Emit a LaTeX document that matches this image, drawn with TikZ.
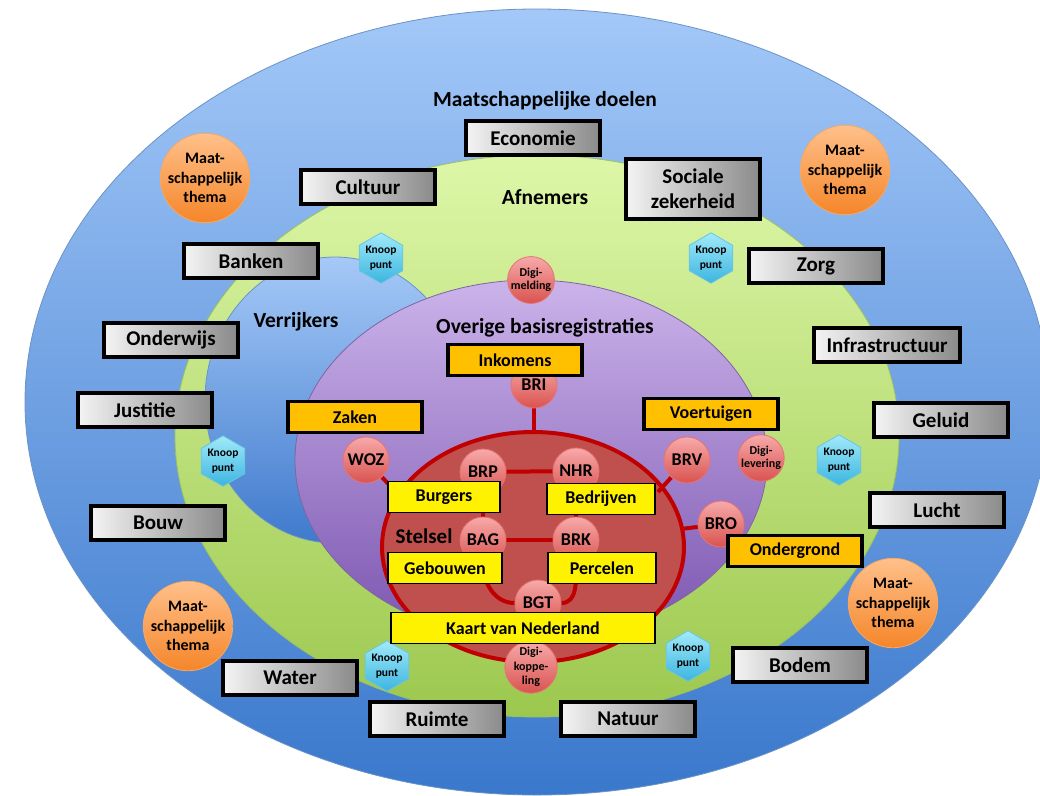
\documentclass[tikz,border=0pt]{standalone}
\usepackage{fontspec}
\setmainfont{Carlito}
\usetikzlibrary{shapes.geometric}
\pgfdeclarelayer{bg}
\pgfdeclarelayer{mid}
\pgfsetlayers{bg,mid,main}
\definecolor{blueT}{HTML}{A3C8F8}
\definecolor{blueB}{HTML}{3A78CC}
\definecolor{blueL}{HTML}{6B93C8}
\definecolor{greenT}{HTML}{DDF7A8}
\definecolor{greenB}{HTML}{9CC84E}
\definecolor{greenL}{HTML}{9DBF60}
\definecolor{verrT}{HTML}{A5C9F7}
\definecolor{verrB}{HTML}{3F7ACD}
\definecolor{purT}{HTML}{CBB3EA}
\definecolor{purB}{HTML}{7B55B0}
\definecolor{purL}{HTML}{8064A2}
\definecolor{stelF}{HTML}{C0504D}
\definecolor{darkred}{HTML}{C00000}
\definecolor{grayL}{HTML}{F4F4F4}
\definecolor{grayD}{HTML}{8A8A8A}
\definecolor{orangeF}{HTML}{FFC000}
\definecolor{regT}{HTML}{F7AAAA}
\definecolor{regB}{HTML}{D9534F}
\definecolor{regL}{HTML}{E57373}
\definecolor{hexT}{HTML}{A0EAFA}
\definecolor{hexB}{HTML}{3DB5E0}
\definecolor{hexL}{HTML}{6CC4E0}
\definecolor{themT}{HTML}{FFC08A}
\definecolor{themB}{HTML}{F5862A}
\definecolor{themL}{HTML}{F9A860}
\begin{document}
\begin{tikzpicture}[x=1pt,y=-1pt,
  graybox/.style={draw=black, line width=3.5pt, left color=grayL, right color=grayD,
    minimum width=134pt, minimum height=34pt, inner sep=0pt, align=center,
    font=\bfseries\fontsize{21}{25}\selectfont},
  orangebox/.style={draw=black, line width=3.5pt, fill=orangeF,
    minimum width=134pt, minimum height=31pt, inner sep=0pt,
    font=\bfseries\fontsize{18}{21}\selectfont},
  yellowbox/.style={draw=black, line width=1.5pt, fill=yellow,
    minimum width=112pt, minimum height=31pt, inner sep=0pt,
    font=\bfseries\fontsize{18}{21}\selectfont},
  regc/.style={circle, draw=regL, line width=0.8pt, top color=regT, bottom color=regB,
    minimum size=46pt, inner sep=0pt, font=\bfseries\fontsize{18}{21}\selectfont},
  digic/.style={regc, align=center, font=\bfseries\fontsize{12}{13.5}\selectfont},
  knoop/.style={regular polygon, regular polygon sides=6, shape border rotate=30,
    draw=hexL, line width=0.8pt, top color=hexT, bottom color=hexB,
    minimum size=49pt, inner sep=0pt, align=center,
    font=\bfseries\fontsize{11.5}{14.5}\selectfont},
  thema/.style={circle, draw=themL, line width=0.8pt, top color=themT, bottom color=themB,
    minimum size=86pt, inner sep=0pt, align=center,
    font=\bfseries\fontsize{16}{19.5}\selectfont},
  lbl/.style={inner sep=0pt, font=\bfseries\fontsize{21.5}{25}\selectfont},
  link/.style={draw=darkred, line width=4pt}
]
\useasboundingbox (0,0) rectangle (1040,795);
\begin{pgfonlayer}{bg}
  \clip (0,0) rectangle (1040,795);
  \shadedraw[top color=blueT, bottom color=blueB, draw=blueL, line width=0.8pt]
    (537,402) ellipse [x radius=512pt, y radius=393pt];
  \shadedraw[top color=greenT, bottom color=greenB, draw=greenL, line width=0.8pt]
    (537,436) ellipse [x radius=362pt, y radius=281pt];
  \shadedraw[top color=verrT, bottom color=verrB, draw=blueL, line width=0.8pt]
    (335,400) ellipse [x radius=130pt, y radius=143pt];
  \shadedraw[top color=purT, bottom color=purB, draw=purL, line width=0.8pt]
    (531,460) ellipse [x radius=236pt, y radius=180pt];
  \filldraw[fill=stelF, draw=darkred, line width=4pt]
    (533,547) ellipse [x radius=151pt, y radius=115pt];
\end{pgfonlayer}

% labels
\node[lbl] (tdoelen) at (545,101) {Maatschappelijke doelen};
\node[lbl] (tafn) at (545,197) {Afnemers};
\node[lbl] (tverr) at (296,322) {Verrijkers};
\node[lbl] (tover) at (545,328) {Overige basisregistraties};
\node[lbl, font=\bfseries\fontsize{21}{25}\selectfont] (tstel) at (424,536) {Stelsel};

% gray boxes
\node[graybox] (economie) at (533,138) {Economie};
\node[graybox] (cultuur) at (368,187) {Cultuur};
\node[graybox, minimum height=60pt] (sociale) at (693,189) {Sociale\\zekerheid};
\node[graybox] (banken) at (251,261) {Banken};
\node[graybox] (zorg) at (816,266) {Zorg};
\node[graybox] (onderwijs) at (171,340) {Onderwijs};
\node[graybox, minimum width=146pt] (infra) at (887,345) {Infrastructuur};
\node[graybox] (justitie) at (145,410) {Justitie};
\node[graybox] (geluid) at (941,420) {Geluid};
\node[graybox] (bouw) at (158,523) {Bouw};
\node[graybox] (lucht) at (937,510) {Lucht};
\node[graybox] (water) at (290,678) {Water};
\node[graybox] (bodem) at (800,665) {Bodem};
\node[graybox] (ruimte) at (437,719) {Ruimte};
\node[graybox] (natuur) at (628,719) {Natuur};

% thema circles
\node[thema] (th1) at (205,178) {Maat-\\schappelijk\\thema};
\node[thema] (th2) at (845,170) {Maat-\\schappelijk\\thema};
\node[thema] (th3) at (188,626) {Maat-\\schappelijk\\thema};
\node[thema] (th4) at (893,603) {Maat-\\schappelijk\\thema};

% knooppunten
\node[knoop] (k1) at (381,258) {Knoop\\punt};
\node[knoop] (k2) at (711,258) {Knoop\\punt};
\node[knoop] (k3) at (223,461) {Knoop\\punt};
\node[knoop] (k4) at (839,460) {Knoop\\punt};
\node[knoop] (k5) at (387,666) {Knoop\\punt};
\node[knoop] (k6) at (688,656) {Knoop\\punt};

% registration circles
\node[regc] (BRI) at (534,385) {BRI};
\node[regc] (WOZ) at (366,460) {WOZ};
\node[regc] (BRP) at (483,472) {BRP};
\node[regc] (NHR) at (576,471) {NHR};
\node[regc] (BAG) at (483,540) {BAG};
\node[regc] (BRK) at (576,540) {BRK};
\node[regc] (BGT) at (538,603) {BGT};
\node[regc] (BRV) at (687,460) {BRV};
\node[regc] (BRO) at (721,524) {BRO};
\node[digic] (dmeld) at (531,280) {Digi-\\melding};
\node[digic] (dlev) at (761,458) {Digi-\\levering};
\node[digic, font=\bfseries\fontsize{12}{14.5}\selectfont] (dkop) at (531,667) {Digi-\\koppe-\\ling};

% orange boxes
\node[orangebox] (inkomens) at (515,360) {Inkomens};
\node[orangebox] (zaken) at (355,417) {Zaken};
\node[orangebox] (voertuigen) at (711,414) {Voertuigen};
\node[orangebox] (ondergrond) at (795,551) {Ondergrond};

% yellow boxes
\node[yellowbox] (burgers) at (444,497) {Burgers};
\node[yellowbox, minimum width=108pt] (bedrijven) at (601,499) {Bedrijven};
\node[yellowbox, minimum width=114pt] (gebouwen) at (445,568) {Gebouwen};
\node[yellowbox, minimum width=108pt] (percelen) at (602,568) {Percelen};
\node[yellowbox, minimum width=264pt] (kaart) at (523,628) {Kaart van Nederland};

% connector endpoints on the Stelsel ellipse
\coordinate (sTop) at (534,433);
\coordinate (sWoz) at (394,490);
\coordinate (sBrv) at (658,492);
\coordinate (sBro) at (681,529);

\begin{pgfonlayer}{mid}
  \draw[link] (BRI) -- (sTop);
  \draw[link] (WOZ) -- (sWoz);
  \draw[link] (BRV) -- (sBrv);
  \draw[link] (BRO) -- (sBro);
  \draw[link] (BRP) -- (NHR);
  \draw[link] (BAG) -- (BRK);
  \draw[link] (BRP) -- (BAG);
  \draw[link] (NHR) -- (BRK);
  \draw[link] (BAG) to[out=-90, in=180] (BGT);
  \draw[link] (BRK) to[out=-90, in=0] (BGT);
\end{pgfonlayer}
\end{tikzpicture}
\end{document}
